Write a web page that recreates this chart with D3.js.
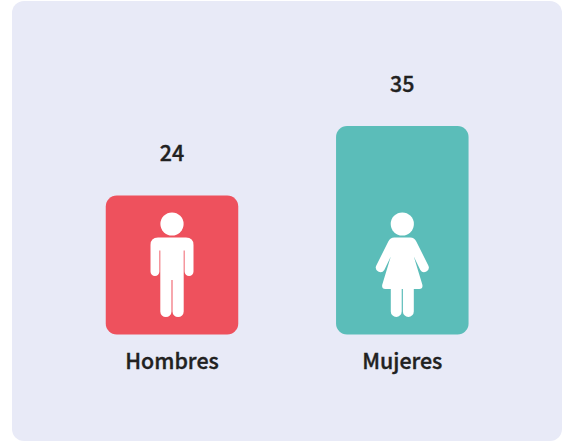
<!DOCTYPE html>
<html><head><meta charset="utf-8">
<script src="https://cdn.jsdelivr.net/npm/d3@7"></script>
<style>html,body{margin:0;padding:0;background:#fff}svg{display:block}</style>
</head><body><svg id="c" width="564" height="442"></svg>
<script>
const categories = ["Hombres", "Mujeres"];
const values = [24, 35];
const colors = ["#EE515D", "#5BBDB9"];
const manIcon = "M-14 13.5H14Q21.5 13.5 21.5 21V47.5A4.45 4.45 0 0 1 12.6 47.5V26.5H11.7V87.5A5.3 5.3 0 0 1 .5 87.5V56H-.5V87.5A5.3 5.3 0 0 1 -11.7 87.5V26.5H-12.6V47.5A4.45 4.45 0 0 1 -21.5 47.5V21Q-21.5 13.5 -14 13.5Z";
const womanIcon = "M-8 13.5H8Q12 13.5 14 17.5L26 41.5A4.6 4.6 0 0 1 18 46L11.5 32.5L20 60.5Q21 65 17 65H11.5V87.5A5.3 5.3 0 0 1 .6 87.5V65H-.6V87.5A5.3 5.3 0 0 1 -11.5 87.5V65H-17Q-21 65 -20 60.5L-11.5 32.5L-18 46A4.6 4.6 0 0 1 -26 41.5L-14 17.5Q-12 13.5 -8 13.5Z";
const icons = [manIcon, womanIcon];
const svg = d3.select("#c");
const font = "'Noto Sans CJK SC','Noto Sans',sans-serif";
svg.append("rect").attr("x",12).attr("y",1).attr("width",550).attr("height",440).attr("rx",12).attr("fill","#E8EAF7");
const x = d3.scalePoint().domain(categories).range([172,402.3]);
const y = d3.scaleLinear().domain([2,35]).range([334.5,126]);
const barW = 132.5;
const g = svg.selectAll("g.b").data(categories).join("g").attr("class","b");
g.append("rect").attr("x",d=>x(d)-barW/2).attr("width",barW)
 .attr("y",(d,i)=>y(values[i])).attr("height",(d,i)=>y(2)-y(values[i])).attr("rx",11).attr("fill",(d,i)=>colors[i]);
const ic = g.append("g").attr("transform",d=>`translate(${x(d)},224)`);
ic.append("circle").attr("r",11.6).attr("fill","#fff");
ic.append("path").attr("d",(d,i)=>icons[i]).attr("fill","#fff");
const txt = s => s.attr("x",x).attr("text-anchor","middle").attr("font-family",font).attr("font-size",21.4)
 .attr("font-weight",500).attr("fill","#212121").attr("stroke","#212121").attr("stroke-width",0.35);
g.append("text").call(txt).attr("y",(d,i)=>y(values[i])-34.5).text((d,i)=>values[i]);
g.append("text").call(txt).attr("y",369).text(d=>d);
</script></body></html>
